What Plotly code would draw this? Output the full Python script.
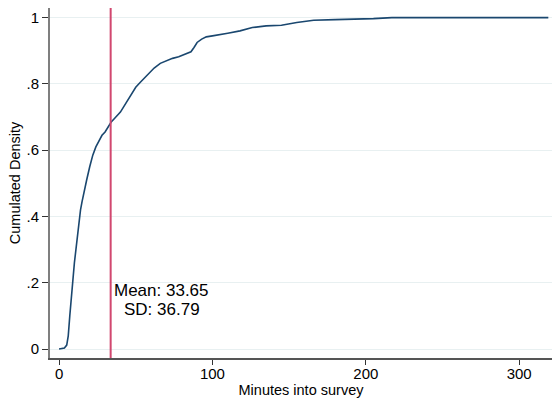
import plotly.graph_objects as go

minutes = [0, 2, 3.5, 5, 6, 7, 8, 9, 10, 11, 12, 13, 14, 15, 16, 18, 20, 22, 24, 26, 28,
           30, 32, 34, 36, 38, 40, 42, 44, 46, 48, 50, 53, 56, 59, 62, 66, 70, 74, 78,
           83, 86, 88, 90, 93, 96, 100, 105, 110, 118, 126, 135, 145, 155, 166, 180,
           192, 205, 217, 250, 290, 319]
cum_density = [0, 0.001, 0.003, 0.012, 0.04, 0.1, 0.16, 0.21, 0.26, 0.3, 0.345, 0.39, 0.42,
               0.445, 0.47, 0.51, 0.55, 0.585, 0.61, 0.63, 0.645, 0.655, 0.67, 0.685, 0.695,
               0.705, 0.715, 0.73, 0.745, 0.76, 0.775, 0.79, 0.805, 0.82, 0.835, 0.848,
               0.862, 0.87, 0.877, 0.882, 0.89, 0.897, 0.91, 0.925, 0.935, 0.942, 0.945,
               0.95, 0.953, 0.96, 0.97, 0.975, 0.977, 0.985, 0.992, 0.994, 0.995, 0.997,
               1.0, 1.0, 1.0, 1.0]

mean_val = 33.65
sd_val = 36.79
x_ticks = [0, 100, 200, 300]
y_ticks = [0, 0.2, 0.4, 0.6, 0.8, 1]
y_tick_labels = ["0", ".2", ".4", ".6", ".8", "1"]

FONT = "Liberation Sans, Arial, Helvetica, sans-serif"

fig = go.Figure()
fig.add_trace(go.Scatter(x=minutes, y=cum_density, mode="lines",
                         line=dict(color="#1a476f", width=1.6), showlegend=False,
                         hoverinfo="skip"))
fig.add_shape(type="line", x0=mean_val, x1=mean_val, y0=0, y1=1, yref="paper",
              line=dict(color="#d1476f", width=2))
fig.add_annotation(x=67, y=0.176, text=f"Mean: {mean_val:.2f}", showarrow=False,
                   xanchor="center", yanchor="middle", font=dict(size=17, color="black", family=FONT))
fig.add_annotation(x=67, y=0.120, text=f"SD: {sd_val:.2f}", showarrow=False,
                   xanchor="center", yanchor="middle", font=dict(size=17, color="black", family=FONT))

fig.update_layout(
    width=552, height=403,
    margin=dict(l=50, r=0, t=8, b=45),
    paper_bgcolor="white", plot_bgcolor="white",
    font=dict(family=FONT, color="black", size=14),
    xaxis=dict(range=[-5.9, 321.4], tickvals=x_ticks, showgrid=False, zeroline=False,
               showline=True, linecolor="#555555", linewidth=1.5,
               ticks="outside", ticklen=5, tickcolor="#333333",
               tickfont=dict(size=15), automargin=False, ticklabelstandoff=-4,
               title=dict(text="Minutes into survey", font=dict(size=14.5), standoff=0)),
    yaxis=dict(range=[-0.027, 1.029], tickvals=y_ticks, ticktext=y_tick_labels,
               showgrid=True, gridcolor="#e8f0f1", gridwidth=1, zeroline=False,
               showline=True, linecolor="#7f7f7f", linewidth=2,
               ticks="outside", ticklen=6, tickcolor="#333333",
               tickfont=dict(size=15), automargin=False,
               title=dict(text="Cumulated Density", font=dict(size=14.5), standoff=2)),
)

fig.write_html("out.html", config={"displayModeBar": False},
               post_script="document.body.style.margin='0';document.body.style.overflow='hidden';")
